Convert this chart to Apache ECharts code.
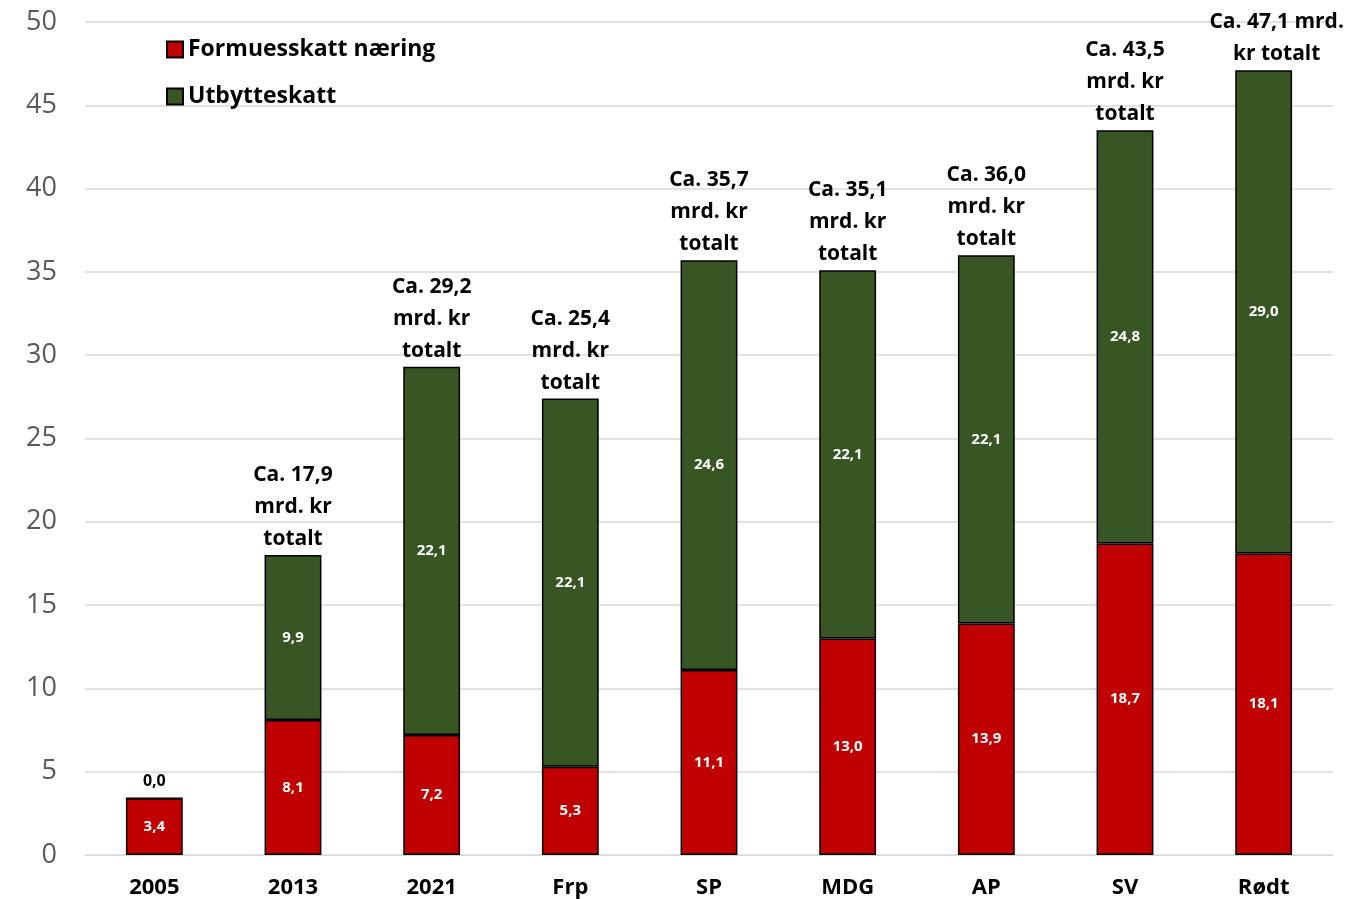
<!DOCTYPE html>
<html>
<head>
<meta charset="utf-8">
<script src="https://cdn.jsdelivr.net/npm/echarts@6/dist/echarts.min.js"></script>
<style>
  html, body { margin: 0; padding: 0; background: #fff; }
  #chart { width: 1355px; height: 899px; }
</style>
</head>
<body>
<div id="chart"></div>
<script>
const categories = ['2005', '2013', '2021', 'Frp', 'SP', 'MDG', 'AP', 'SV', 'Rødt'];
const formuesskatt = [3.4, 8.1, 7.2, 5.3, 11.1, 13.0, 13.9, 18.7, 18.1];
const utbytteskatt = [0.0, 9.9, 22.1, 22.1, 24.6, 22.1, 22.1, 24.8, 29.0];
const totalLabels = [
  '',
  'Ca. 17,9\nmrd. kr\ntotalt',
  'Ca. 29,2\nmrd. kr\ntotalt',
  'Ca. 25,4\nmrd. kr\ntotalt',
  'Ca. 35,7\nmrd. kr\ntotalt',
  'Ca. 35,1\nmrd. kr\ntotalt',
  'Ca. 36,0\nmrd. kr\ntotalt',
  'Ca. 43,5\nmrd. kr\ntotalt',
  'Ca. 47,1 mrd.\nkr totalt'
];

const FONT = '"Open Sans", Lato, sans-serif';
const fmt = v => v.toFixed(1).replace('.', ',');

const chart = echarts.init(document.getElementById('chart'));

const innerLabel = {
  show: true,
  position: 'inside',
  color: '#fff',
  fontFamily: FONT,
  fontWeight: 'bold',
  fontSize: 15,
  formatter: p => fmt(p.value)
};

chart.setOption({
  animation: false,
  backgroundColor: '#fff',
  textStyle: { fontFamily: FONT },
  grid: { left: 85, right: 22, top: 22, bottom: 44, containLabel: false },
  legend: {
    data: ['Formuesskatt næring', 'Utbytteskatt'],
    orient: 'vertical',
    left: 161,
    top: 33,
    itemWidth: 16,
    itemHeight: 16,
    itemGap: 24,
    icon: 'rect',
    textStyle: { fontFamily: FONT, fontSize: 23, fontWeight: 'bold', color: '#000' }
  },
  xAxis: {
    type: 'category',
    data: categories,
    axisLine: { show: true, lineStyle: { color: '#d9d9d9', width: 1 } },
    axisTick: { show: false },
    axisLabel: { margin: 22, fontSize: 22, fontWeight: 'bold', color: '#000', fontFamily: FONT }
  },
  yAxis: {
    type: 'value',
    min: 0,
    max: 50,
    interval: 5,
    axisLine: { show: false },
    axisTick: { show: false },
    splitLine: { lineStyle: { color: '#d9d9d9', width: 1.5 } },
    axisLabel: { margin: 28, fontSize: 27, color: '#595959', fontFamily: FONT }
  },
  series: [
    {
      name: 'Formuesskatt næring',
      type: 'bar',
      stack: 'sum',
      barCategoryGap: '59%',
      itemStyle: { color: '#c00000', borderColor: '#000', borderWidth: 1.5 },
      label: innerLabel,
      data: formuesskatt
    },
    {
      name: 'Utbytteskatt',
      type: 'bar',
      stack: 'sum',
      itemStyle: { color: '#375623', borderColor: '#000', borderWidth: 1.5 },
      label: innerLabel,
      data: utbytteskatt.map(v => v === 0
        ? { value: v, label: { position: 'top', distance: 8, color: '#000', fontSize: 16 } }
        : v)
    },
    {
      name: 'Totalt',
      type: 'bar',
      stack: 'sum',
      itemStyle: { color: 'transparent', borderWidth: 0 },
      label: {
        show: true,
        position: 'top',
        distance: 0,
        color: '#000',
        fontFamily: FONT,
        fontWeight: 'bold',
        fontSize: 21,
        lineHeight: 32,
        formatter: p => totalLabels[p.dataIndex]
      },
      data: categories.map((c, i) => i === categories.length - 1
        ? { value: 0, label: { offset: [13, 0] } }
        : 0)
    }
  ]
});
</script>
</body>
</html>
